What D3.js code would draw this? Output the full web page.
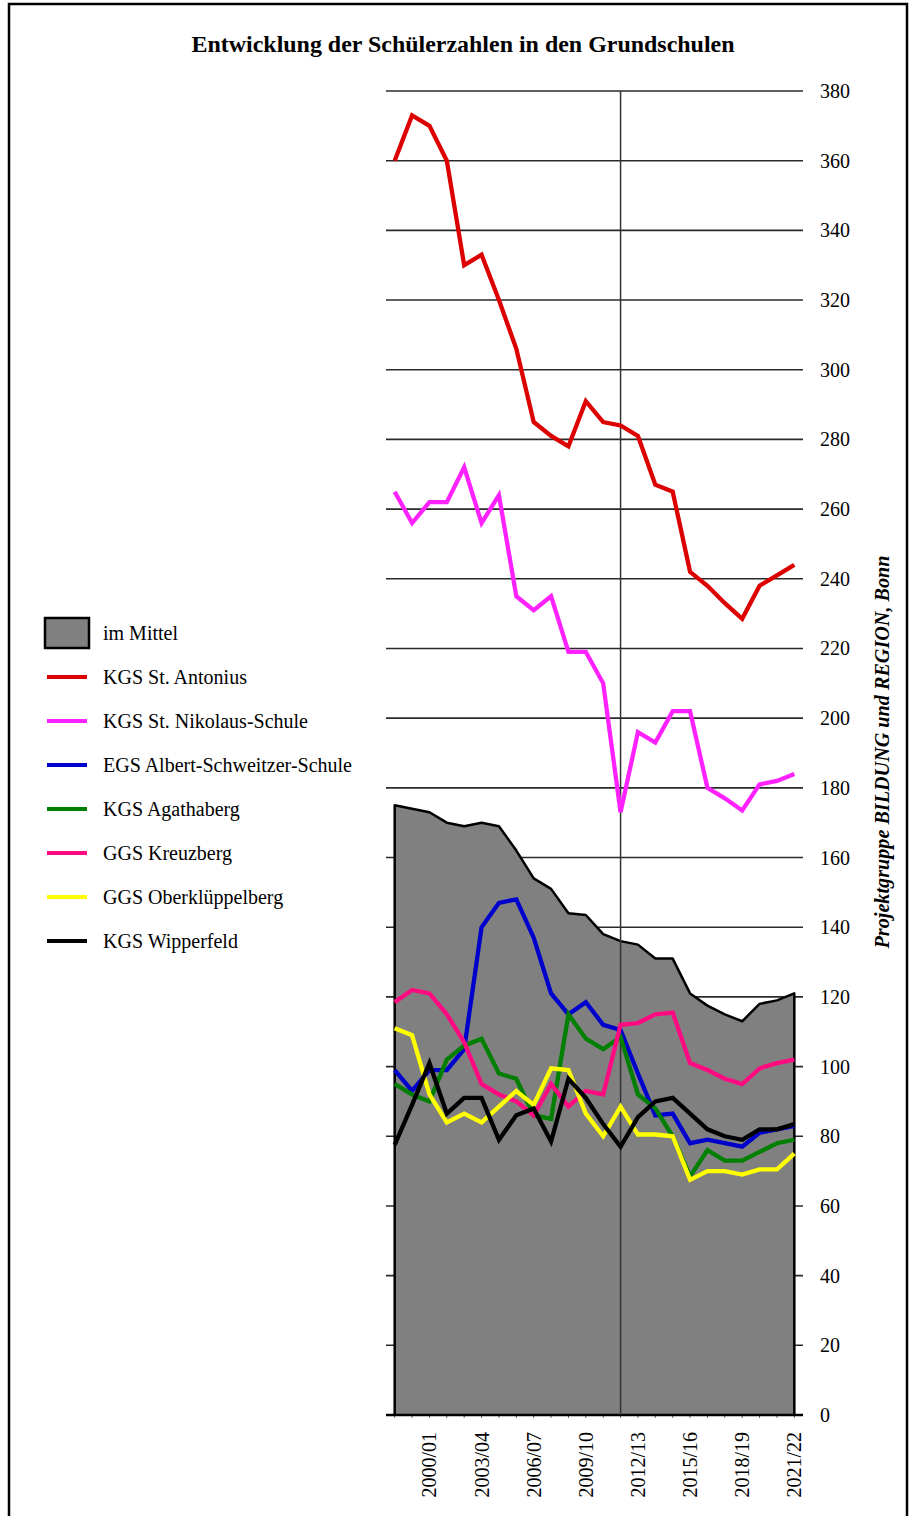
<!DOCTYPE html>
<html>
<head>
<meta charset="utf-8">
<script src="https://cdn.jsdelivr.net/npm/d3@7"></script>
<style>
  html, body { margin: 0; padding: 0; background: #fff; }
  svg { display: block; font-family: "Liberation Serif", "Times New Roman", serif; }
</style>
</head>
<body>
<svg id="chart" width="910" height="1516"></svg>
<script>
const years = ["1998/99","1999/00","2000/01","2001/02","2002/03","2003/04","2004/05","2005/06","2006/07","2007/08","2008/09","2009/10","2010/11","2011/12","2012/13","2013/14","2014/15","2015/16","2016/17","2017/18","2018/19","2019/20","2020/21","2021/22"];
const tickLabels = ["2000/01","2003/04","2006/07","2009/10","2012/13","2015/16","2018/19","2021/22"];
const yTicks = [0,20,40,60,80,100,120,140,160,180,200,220,240,260,280,300,320,340,360,380];
const markerYear = "2011/12";

const mittel      = [175,174,173,170,169,170,169,162,154,151,144,143.5,138,136,135,131,131,121,117.5,115,113,118,119,121];
const antonius    = [360,373,370,360,330,333,320,306,285,281,278,291,285,284,281,267,265,242,238,233,228.5,238,241,244];
const nikolaus    = [265,256,262,262,272,256,264,235,231,235,219,219,210,173,196,193,202,202,180,177,173.5,181,182,184];
const albert      = [99,93,99,99,105,140,147,148,137,121,115,118.5,112,110.5,98,86,86.5,78,79,78,77,81,82,83];
const agathaberg  = [95,92,90,102,106,108,98,96.5,86,85,115,108,105,108.5,92,88,80,68.5,76,73,73,75.5,78,79];
const kreuzberg   = [118.5,122,121,115,107,95,92,90,86,95,88.5,93,92,112,112.5,115,115.5,101,99,96.5,95,99.5,101,102];
const oberkl      = [111,109,92,84,86.5,84,88.5,93,89,99.5,99,86.5,80,88.5,80.5,80.5,80,67.5,70,70,69,70.5,70.5,75];
const wipperfeld  = [77.5,89,101,86.5,91,91,79,86,88,78.5,96.5,91,83.5,77,85.5,90,91,86.5,82,80,79,82,82,83.5];

const seriesNames  = ["KGS St. Antonius","KGS St. Nikolaus-Schule","EGS Albert-Schweitzer-Schule","KGS Agathaberg","GGS Kreuzberg","GGS Oberklüppelberg","KGS Wipperfeld"];
const seriesValues = [antonius, nikolaus, albert, agathaberg, kreuzberg, oberkl, wipperfeld];
const seriesColors = ["#dd0000","#ff22ff","#0000cc","#007f00","#ff0a80","#ffff00","#000000"];

const svg = d3.select("#chart");

// frame
svg.append("path").attr("d","M9,1516 V4 H907 V1516").attr("fill","none").attr("stroke","#000").attr("stroke-width",2.5);

// title
svg.append("text").attr("x",463).attr("y",52).attr("text-anchor","middle")
  .attr("font-size","23px").attr("font-weight","bold")
  .attr("textLength",543).attr("lengthAdjust","spacingAndGlyphs")
  .text("Entwicklung der Schülerzahlen in den Grundschulen");

const x = d3.scaleBand().domain(years).range([386,803]).padding(0);
const cx = d => x(d) + x.bandwidth()/2;
const y = d3.scaleLinear().domain([0,380]).range([1415,91]);

// gridlines
svg.append("g").selectAll("line").data(yTicks.filter(t=>t>0)).join("line")
  .attr("x1",386).attr("x2",803).attr("y1",d=>y(d)).attr("y2",d=>y(d))
  .attr("stroke","#2a2a2a").attr("stroke-width",1.6);

// right tick labels
svg.append("g").selectAll("text").data(yTicks).join("text")
  .attr("x",820).attr("y",d=>y(d)+7).attr("font-size","20px").text(d=>d);

// area
const area = d3.area().x((d,i)=>cx(years[i])).y0(y(0)).y1(d=>y(d));
svg.append("path").datum(mittel).attr("d",area).attr("fill","#808080");
const outline = [[cx(years[0]), y(0)]].concat(mittel.map((v,i)=>[cx(years[i]), y(v)])).concat([[cx(years[years.length-1]), y(0)]]);
svg.append("path").attr("d", d3.line()(outline)).attr("fill","none").attr("stroke","#000").attr("stroke-width",2.5).attr("stroke-linejoin","round");

// x axis
const xAxis = d3.axisBottom(x).tickSize(3).tickFormat("");
const gx = svg.append("g").attr("transform",`translate(0,${y(0)})`).call(xAxis);
gx.select(".domain").remove();
gx.selectAll(".tick line").attr("stroke","#666").attr("stroke-width",1);
svg.append("line").attr("x1",386).attr("x2",803).attr("y1",y(0)).attr("y2",y(0)).attr("stroke","#000").attr("stroke-width",2.5);

svg.append("g").selectAll("text").data(tickLabels).join("text")
  .attr("transform",d=>`translate(${cx(d)+7},1432) rotate(-90)`)
  .attr("text-anchor","end").attr("font-size","20px").text(d=>d);

// marker vertical line
svg.append("line").attr("x1",cx(markerYear)).attr("x2",cx(markerYear)).attr("y1",y(380)).attr("y2",y(0))
  .attr("stroke","#333").attr("stroke-width",1.5);

// series lines
const line = d3.line().x((d,i)=>cx(years[i])).y(d=>y(d));
seriesValues.forEach((vals,k)=>{
  svg.append("path").datum(vals).attr("d",line).attr("fill","none")
    .attr("stroke",seriesColors[k]).attr("stroke-width",4.3).attr("stroke-linejoin","miter");
});

// source text
svg.append("text").attr("transform","translate(889,752) rotate(-90)").attr("text-anchor","middle")
  .attr("font-size","20px").attr("font-weight","bold").attr("font-style","italic")
  .attr("textLength",393).attr("lengthAdjust","spacingAndGlyphs")
  .text("Projektgruppe BILDUNG und REGION, Bonn");

// legend
const lg = svg.append("g");
lg.append("rect").attr("x",45).attr("y",618).attr("width",44).attr("height",30).attr("fill","#808080").attr("stroke","#000").attr("stroke-width",2.5);
lg.append("text").attr("x",103).attr("y",640).attr("font-size","20px").text("im Mittel");
seriesNames.forEach((n,k)=>{
  const yy = 677 + k*44;
  lg.append("line").attr("x1",47).attr("x2",87).attr("y1",yy).attr("y2",yy).attr("stroke",seriesColors[k]).attr("stroke-width",4);
  lg.append("text").attr("x",103).attr("y",yy+7).attr("font-size","20px").text(n);
});
</script>
</body>
</html>
